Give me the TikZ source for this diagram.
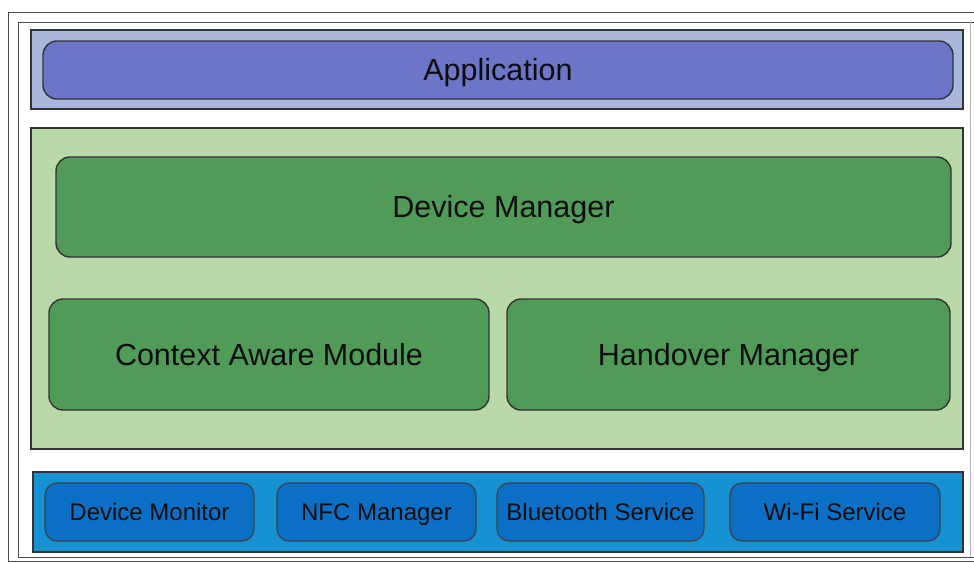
\documentclass[tikz,border=0pt]{standalone}
\usepackage{fontspec}
\setmainfont{Liberation Sans}
\begin{document}
\begin{tikzpicture}[x=1pt,y=-1pt,
  band/.style={draw=black!80, line width=1.4pt, rectangle, inner sep=0pt},
  module/.style={draw=black!80, line width=1.4pt, rectangle, rounded corners=14pt, inner sep=0pt,
    text=black!95, font=\fontsize{30.5}{36}\selectfont, text height=21.8pt, text depth=0pt},
  service/.style={draw=black!75, line width=1.2pt, rectangle, rounded corners=12pt, inner sep=0pt,
    minimum height=58pt, text=black!95, font=\fontsize{24}{28}\selectfont, text height=17.2pt, text depth=0pt},
  frame/.style={draw=black!70, line width=1pt}
]
\definecolor{appOuter}{HTML}{A9B7DC}
\definecolor{appInner}{HTML}{6C76C9}
\definecolor{greenOuter}{HTML}{BAD9A9}
\definecolor{greenInner}{HTML}{519B59}
\definecolor{blueOuter}{HTML}{1591D4}
\definecolor{blueInner}{HTML}{0C6FC6}

\useasboundingbox[fill=white] (0,0) rectangle (974,562);

% double frame around the stack
\draw[frame] (990,12) -- (8,12) -- (8,561) -- (990,561);
\draw[frame] (990,22) -- (18,22) -- (18,557) -- (990,557);
\draw[frame, draw=black!30, line width=0.8pt] (970,22) -- (970,557);

% application layer
\node[band, fill=appOuter, minimum width=932pt, minimum height=79pt] (applayer) at (497,69.5) {};
\node[module, fill=appInner, minimum width=910pt, minimum height=58pt] (app) at (498,70) {Application};

% middleware layer
\node[band, fill=greenOuter, minimum width=932pt, minimum height=321pt] (midlayer) at (497,288.5) {};
\node[module, fill=greenInner, minimum width=895pt, minimum height=100pt] (devmgr) at (503.5,207) {Device Manager};
\node[module, fill=greenInner, minimum width=440pt, minimum height=111pt] (context) at (269,354.5) {Context Aware Module};
\node[module, fill=greenInner, minimum width=443pt, minimum height=111pt] (handover) at (728.5,354.5) {Handover Manager};

% service layer
\node[band, fill=blueOuter, minimum width=930pt, minimum height=80pt] (svclayer) at (498,512) {};
\node[service, fill=blueInner, minimum width=209pt] (monitor) at (149.5,512) {Device Monitor};
\node[service, fill=blueInner, minimum width=199pt] (nfc) at (376.5,512) {NFC Manager};
\node[service, fill=blueInner, minimum width=207pt] (bt) at (600.5,512) {Bluetooth Service};
\node[service, fill=blueInner, minimum width=210pt] (wifi) at (835,512) {Wi-Fi Service};
\end{tikzpicture}
\end{document}
